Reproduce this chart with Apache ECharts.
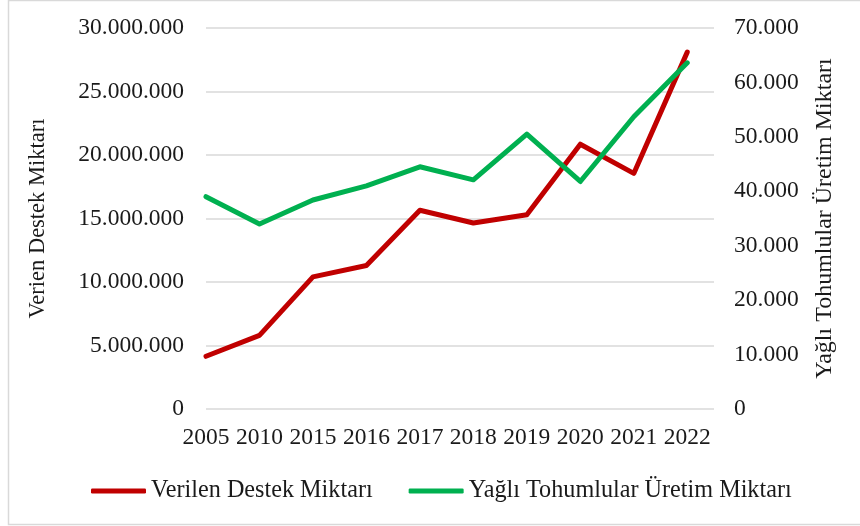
<!DOCTYPE html>
<html>
<head>
<meta charset="utf-8">
<script src="https://cdn.jsdelivr.net/npm/echarts@6/dist/echarts.min.js"></script>
<style>
  html, body { margin: 0; padding: 0; background: #fff; }
  #chart { width: 860px; height: 526px; }
</style>
</head>
<body>
<div id="chart"></div>
<script>
// values
const years = ['2005', '2010', '2015', '2016', '2017', '2018', '2019', '2020', '2021', '2022'];
const destek = [4150000, 5800000, 10400000, 11300000, 15650000, 14650000, 15300000, 20850000, 18550000, 28100000];
const uretim = [39000, 34000, 38400, 41000, 44500, 42100, 50500, 41800, 53700, 63600];

const font = 'Liberation Serif';
const textColor = '#1a1a1a';

function dots(v) {
  return String(v).replace(/\B(?=(\d{3})+(?!\d))/g, '.');
}

let myChart = echarts.init(document.getElementById('chart'));
let option = {
  animation: false,
  textStyle: {fontFamily: font, color: textColor},
  graphic: [{
    type: 'rect',
    shape: {x: 8.5, y: 0.5, width: 900, height: 524},
    style: {fill: 'none', stroke: '#d9d9d9', lineWidth: 1.5},
    silent: true
  }],
  grid: {left: 206, right: 146, top: 28, bottom: 117},
  legend: {
    left: 91,
    top: 479,
    padding: 0,
    icon: 'roundRect',
    itemWidth: 55,
    itemHeight: 5,
    itemGap: 36,
    textStyle: {fontFamily: font, fontSize: 24.2, color: textColor},
    data: ['Verilen Destek Miktarı', 'Yağlı Tohumlular Üretim Miktarı']
  },
  xAxis: {
    type: 'value',
    min: 0,
    max: 9.5,
    interval: 1,
    axisLine: {show: false},
    axisTick: {show: false},
    splitLine: {show: false},
    axisLabel: {
      fontFamily: font, fontSize: 23.5, color: textColor, margin: 17,
      showMaxLabel: false,
      formatter: function (v) { return years[v] || ''; }
    }
  },
  yAxis: [
    {
      type: 'value',
      min: 0,
      max: 30000000,
      interval: 5000000,
      name: 'Verien Destek Miktarı',
      nameLocation: 'middle',
      nameRotate: 90,
      nameGap: 156,
      nameTextStyle: {fontFamily: font, fontSize: 22.5, color: textColor},
      axisLine: {show: false},
      axisTick: {show: false},
      axisLabel: {fontFamily: font, fontSize: 23.5, color: textColor, margin: 22, formatter: dots},
      splitLine: {lineStyle: {color: '#d9d9d9', width: 1.5}}
    },
    {
      type: 'value',
      min: 0,
      max: 70000,
      interval: 10000,
      name: 'Yağlı Tohumlular Üretim Miktarı',
      nameLocation: 'middle',
      nameRotate: 90,
      nameGap: 99,
      nameTextStyle: {fontFamily: font, fontSize: 24, color: textColor},
      axisLine: {show: false},
      axisTick: {show: false},
      axisLabel: {fontFamily: font, fontSize: 23.5, color: textColor, margin: 20, formatter: dots},
      splitLine: {show: false}
    }
  ],
  series: [
    {
      name: 'Verilen Destek Miktarı',
      type: 'line',
      yAxisIndex: 0,
      symbol: 'none',
      color: '#c00000',
      lineStyle: {width: 5, color: '#c00000', cap: 'round', join: 'round'},
      data: destek.map((v, i) => [i, v])
    },
    {
      name: 'Yağlı Tohumlular Üretim Miktarı',
      type: 'line',
      yAxisIndex: 1,
      symbol: 'none',
      color: '#00b050',
      lineStyle: {width: 5, color: '#00b050', cap: 'round', join: 'round'},
      data: uretim.map((v, i) => [i, v])
    }
  ]
};
myChart.setOption(option);
</script>
</body>
</html>
